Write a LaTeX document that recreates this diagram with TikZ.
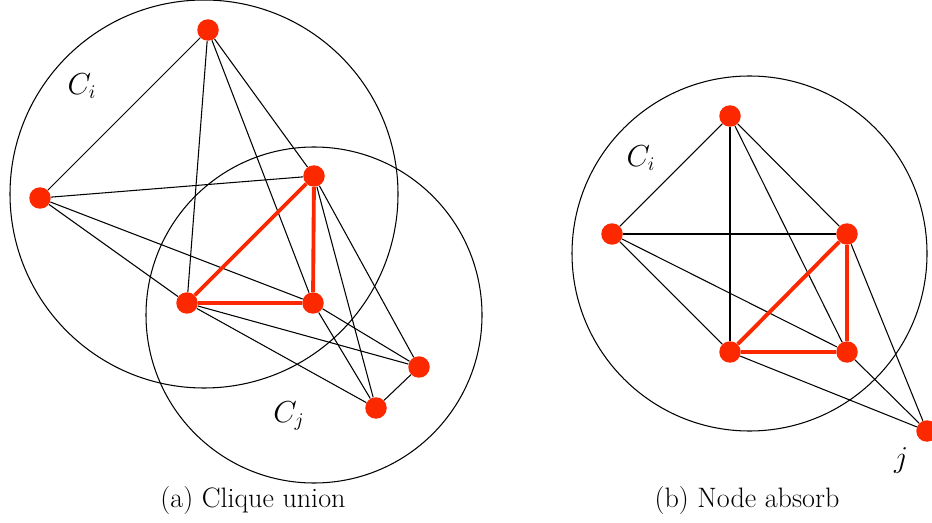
\documentclass[tikz,border=0pt]{standalone}
\usepackage{xcolor}
\usepackage{amsmath, amssymb}
\usepackage{tikz}
\usetikzlibrary{positioning}

\definecolor{vertexred}{RGB}{252,40,0}

\begin{document}
\begin{tikzpicture}[
            x = 0.02cm, y = -0.02cm,
            vertex/.style = {
                circle,
                fill = vertexred,
                inner sep = 0pt,
                minimum size = 0.43cm
            },
            edge/.style = {
                draw = black,
                line width = 0.6pt
            },
            clique/.style = {
                draw = vertexred,
                line width = 2.2pt
            },
            region/.style = {
                draw = black,
                line width = 0.6pt
            },
            tag/.style = {
                font = \fontsize{16}{19}\selectfont
            },
            caption/.style = {
                font = \fontsize{16}{19}\selectfont
            }
        ]
            \useasboundingbox (0,0) rectangle (932,523);

            % (a) clique union
            \draw[region] (204,194) circle (194);
            \draw[region] (314,315) circle (168);

            \node[vertex] (a1) at (208,30) {};
            \node[vertex] (a2) at (40,198) {};
            \node[vertex] (a3) at (314,176) {};
            \node[vertex] (a4) at (187,303) {};
            \node[vertex] (a5) at (313,303) {};
            \node[vertex] (a6) at (419,367) {};
            \node[vertex] (a7) at (376,408) {};

            \draw[edge] (a1) -- (a2);
            \draw[edge] (a1) -- (a4);
            \draw[edge] (a1) -- (a5);
            \draw[edge] (a1) -- (a3);
            \draw[edge] (a2) -- (a3);
            \draw[edge] (a2) -- (a4);
            \draw[edge] (a2) -- (a5);
            \draw[edge] (a4) -- (a6);
            \draw[edge] (a4) -- (a7);
            \draw[edge] (a5) -- (a6);
            \draw[edge] (a5) -- (a7);
            \draw[edge] (a3) -- (a6);
            \draw[edge] (a3) -- (a7);
            \draw[edge] (a6) -- (a7);
            \draw[clique] (a3) -- (a4) -- (a5) -- (a3);

            \node[tag] (ci) at (82,86) {$C_i$};
            \node[tag] (cj) at (289,416) {$C_j$};
            \node[caption] (capa) at (253,500) {(a) Clique union};

            % (b) node absorb
            \draw[region] (749.5,253.5) circle (177.5);

            \node[vertex] (b1) at (730,116) {};
            \node[vertex] (b2) at (612,234) {};
            \node[vertex] (b3) at (847,234) {};
            \node[vertex] (b4) at (730,352) {};
            \node[vertex] (b5) at (847,352) {};
            \node[vertex] (bj) at (927,431) {};

            \draw[edge] (b1) -- (b2);
            \draw[edge] (b1) -- (b4);
            \draw[edge] (b1) -- (b5);
            \draw[edge] (b1) -- (b3);
            \draw[edge] (b2) -- (b3);
            \draw[edge] (b2) -- (b4);
            \draw[edge] (b2) -- (b5);
            \draw[edge] (bj) -- (b4);
            \draw[edge] (bj) -- (b5);
            \draw[edge] (bj) -- (b3);
            \draw[clique] (b3) -- (b4) -- (b5) -- (b3);

            \node[tag] (ci2) at (641,158) {$C_i$};
            \node[tag] (jlabel) at (901,460) {$j$};
            \node[caption] (capb) at (747,500) {(b) Node absorb};
        \end{tikzpicture}
\end{document}
